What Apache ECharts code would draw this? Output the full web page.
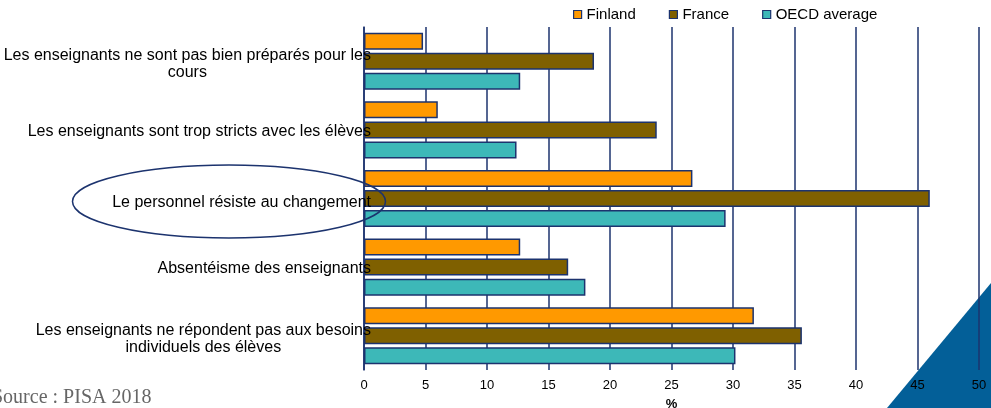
<!DOCTYPE html>
<html>
<head>
<meta charset="utf-8">
<script src="https://cdn.jsdelivr.net/npm/echarts@6/dist/echarts.min.js"></script>
<style>
  html, body { margin: 0; padding: 0; background: #ffffff; }
  #chart { width: 991px; height: 408px; }
</style>
</head>
<body>
<div id="chart"></div>
<script>
// Reasons cited by principals as hindering learning (% of students), PISA 2018
const categories = [
  'Les enseignants ne sont pas bien préparés pour les\ncours',
  'Les enseignants sont trop stricts avec les élèves',
  'Le personnel résiste au changement',
  'Absentéisme des enseignants',
  'Les enseignants ne répondent pas aux besoins\nindividuels des élèves'
];
const seriesNames = ['Finland', 'France', 'OECD average'];
const finland = [4.8, 6.0, 26.7, 12.7, 31.7];
const france = [18.7, 23.8, 46.0, 16.6, 35.6];
const oecdAverage = [12.7, 12.4, 29.4, 18.0, 30.2];
const xTicks = [0, 5, 10, 15, 20, 25, 30, 35, 40, 45, 50];

const NAVY = '#1c336e';
const colors = ['#FF9900', '#7F6000', '#3DB8B8'];
const SANS = '"Liberation Sans", Arial, sans-serif';

// extra top padding nudges each category label slightly below its band centre
const labelPadTop = [6, 4, 8, 3, 6];

const chart = echarts.init(document.getElementById('chart'), null, { renderer: 'canvas' });

function barSeries(name, data, color) {
  return {
    name: name,
    type: 'bar',
    data: data,
    barWidth: 17,
    barGap: '18%',
    itemStyle: { color: color, borderColor: NAVY, borderWidth: 1.5 }
  };
}

chart.setOption({
  animation: false,
  backgroundColor: '#ffffff',
  legend: {
    data: seriesNames,
    left: 568,
    top: 2,
    itemWidth: 8,
    itemHeight: 8,
    itemGap: 33,
    icon: 'rect',
    itemStyle: { borderColor: NAVY, borderWidth: 1.2 },
    textStyle: { fontFamily: SANS, fontSize: 15, color: '#000' }
  },
  grid: { left: 364, right: 12, top: 27, bottom: 38, containLabel: false, outerBoundsMode: 'none' },
  xAxis: {
    type: 'value',
    min: xTicks[0],
    max: xTicks[xTicks.length - 1],
    interval: 5,
    name: '%',
    nameLocation: 'middle',
    nameGap: 28,
    nameTextStyle: { fontFamily: SANS, fontSize: 13, fontWeight: 'bold', color: '#000' },
    axisLine: { show: false },
    axisTick: { show: false },
    axisLabel: { fontFamily: SANS, fontSize: 13, color: '#000', margin: 9 },
    splitLine: { show: true, lineStyle: { color: NAVY, width: 1.5 } }
  },
  yAxis: {
    type: 'category',
    data: categories.map(function (c, i) {
      return { value: c, textStyle: { padding: [labelPadTop[i], 0, 0, 0] } };
    }),
    inverse: true,
    z: 5,
    axisLine: { show: true, lineStyle: { color: NAVY, width: 1.5 } },
    axisTick: { show: false },
    splitLine: { show: false },
    axisLabel: {
      margin: -7,
      align: 'right',
      fontFamily: SANS,
      fontSize: 16,
      color: '#000',
      formatter: function (v) {
        return v.split('\n').map(function (l) { return '{c|' + l + '}'; }).join('\n');
      },
      rich: {
        c: { align: 'center', fontFamily: SANS, fontSize: 16, lineHeight: 17, color: '#000' }
      }
    }
  },
  series: [
    barSeries(seriesNames[0], finland, colors[0]),
    barSeries(seriesNames[1], france, colors[1]),
    barSeries(seriesNames[2], oecdAverage, colors[2])
  ],
  graphic: [
    {
      type: 'polygon',
      z: -10,
      silent: true,
      shape: { points: [[887, 408], [991, 283], [991, 408]] },
      style: { fill: '#035F98' }
    },
    {
      type: 'ellipse',
      z: 100,
      silent: true,
      shape: { cx: 229, cy: 201.5, rx: 156.5, ry: 36.5 },
      style: { fill: 'none', stroke: NAVY, lineWidth: 1.5 }
    },
    {
      type: 'text',
      z: 100,
      silent: true,
      left: -8,
      top: 388,
      style: {
        text: 'Source : PISA 2018',
        fontFamily: '"Liberation Serif", "DejaVu Serif", serif',
        fontSize: 20,
        fill: '#666666'
      }
    }
  ]
});
</script>
</body>
</html>
